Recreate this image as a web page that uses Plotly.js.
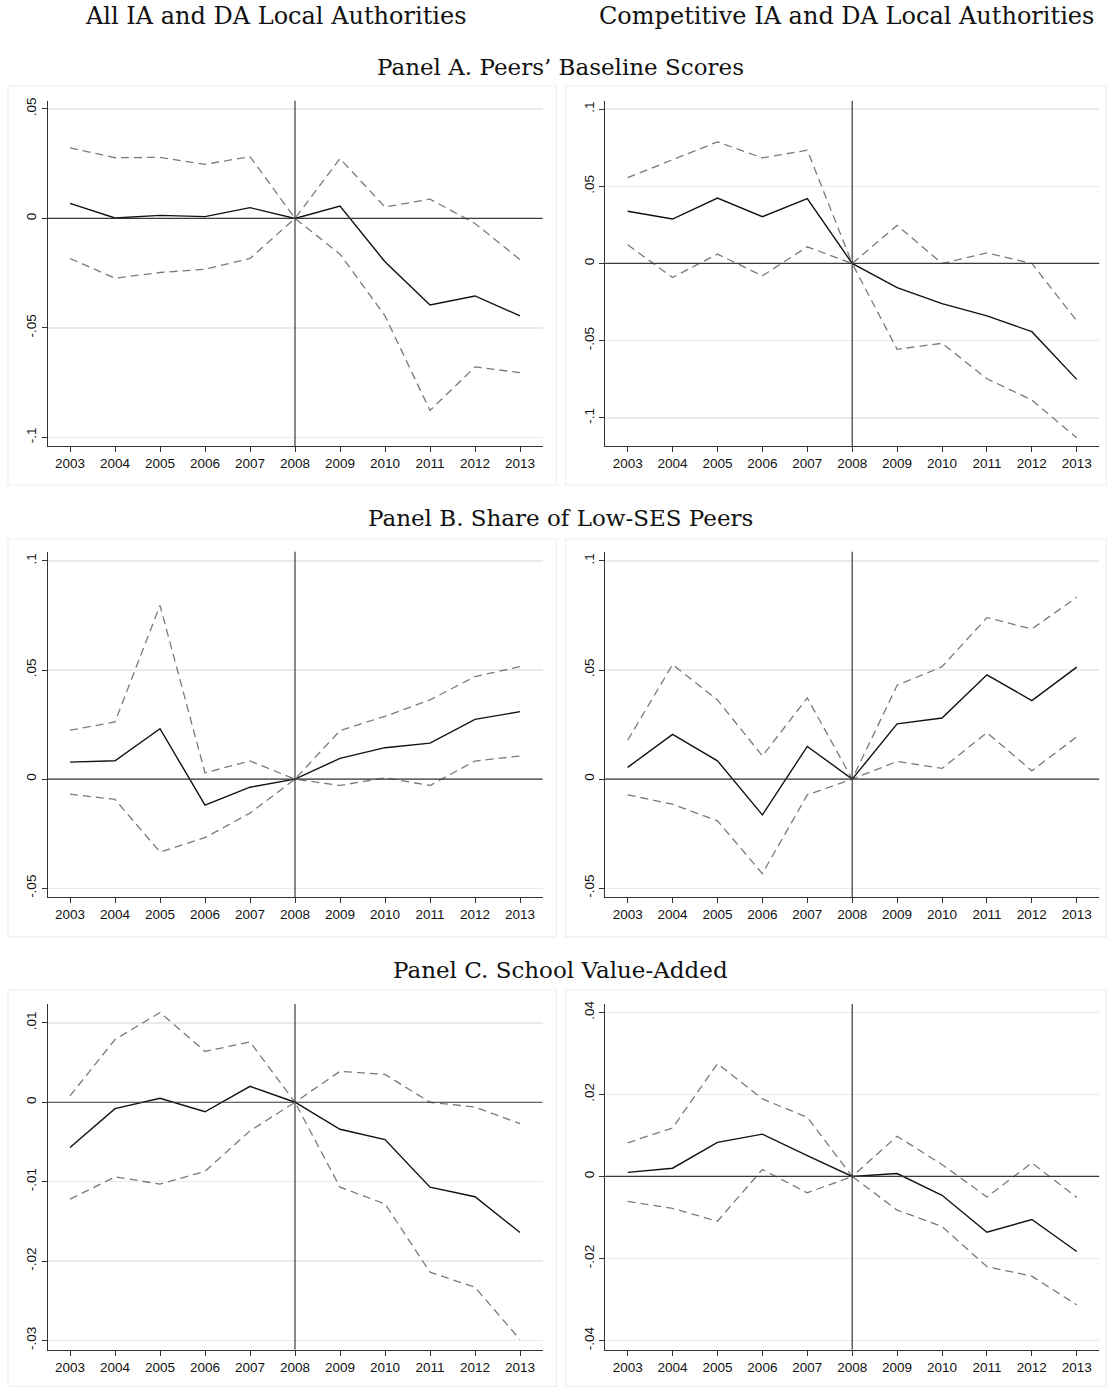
<!DOCTYPE html>
<html>
<head>
<meta charset="utf-8">
<script src="https://cdn.plot.ly/plotly-3.0.1.min.js"></script>
<style>
  html, body { margin: 0; padding: 0; background: #ffffff; }
  #chart { width: 1108px; height: 1387px; }
</style>
</head>
<body>
<div id="chart"></div>
<script>
// ---------- DATA ----------
const years = [2003, 2004, 2005, 2006, 2007, 2008, 2009, 2010, 2011, 2012, 2013];
const yearLabels = ["2003","2004","2005","2006","2007","2008","2009","2010","2011","2012","2013"];

// Panel A. Peers' Baseline Scores — All IA and DA Local Authorities
const aAllCoef  = [0.0069, 0.0002, 0.0014, 0.0008, 0.0049, 0, 0.0056, -0.0198, -0.0395, -0.0354, -0.0445];
const aAllUpper = [0.0322, 0.0277, 0.0279, 0.0247, 0.0282, 0, 0.0273, 0.0052, 0.0088, -0.0023, -0.0188];
const aAllLower = [-0.0183, -0.0273, -0.0247, -0.0232, -0.0183, 0, -0.0163, -0.0445, -0.0877, -0.0678, -0.0704];

// Panel A — Competitive IA and DA Local Authorities
const aCompCoef  = [0.0338, 0.0288, 0.0424, 0.0303, 0.0420, 0, -0.0156, -0.0260, -0.0340, -0.0442, -0.0751];
const aCompUpper = [0.0556, 0.0671, 0.0788, 0.0684, 0.0734, 0, 0.0247, 0.0000, 0.0069, 0.0000, -0.0372];
const aCompLower = [0.0121, -0.0091, 0.0061, -0.0080, 0.0108, 0, -0.0556, -0.0517, -0.0747, -0.0885, -0.1130];

// Panel B. Share of Low-SES Peers — All
const bAllCoef  = [0.0078, 0.0084, 0.0231, -0.0119, -0.0037, 0, 0.0095, 0.0144, 0.0165, 0.0274, 0.0309];
const bAllUpper = [0.0224, 0.0262, 0.0796, 0.0029, 0.0083, 0, 0.0222, 0.0288, 0.0363, 0.0470, 0.0515];
const bAllLower = [-0.0069, -0.0093, -0.0334, -0.0268, -0.0156, 0, -0.0029, 0.0006, -0.0029, 0.0083, 0.0106];

// Panel B — Competitive
const bCompCoef  = [0.0054, 0.0205, 0.0084, -0.0164, 0.0150, 0, 0.0253, 0.0280, 0.0478, 0.0360, 0.0513];
const bCompUpper = [0.0178, 0.0525, 0.0363, 0.0106, 0.0372, 0, 0.0430, 0.0515, 0.0740, 0.0688, 0.0833];
const bCompLower = [-0.0072, -0.0115, -0.0191, -0.0433, -0.0072, 0, 0.0081, 0.0049, 0.0213, 0.0038, 0.0194];

// Panel C. School Value-Added — All
const cAllCoef  = [-0.0057, -0.0008, 0.0005, -0.0012, 0.0020, 0, -0.0034, -0.0047, -0.0107, -0.0119, -0.0164];
const cAllUpper = [0.0008, 0.0079, 0.0113, 0.0064, 0.0076, 0, 0.0039, 0.0035, 0.0000, -0.0006, -0.0027];
const cAllLower = [-0.0122, -0.0094, -0.0103, -0.0087, -0.0036, 0, -0.0107, -0.0128, -0.0214, -0.0233, -0.0299];

// Panel C — Competitive
const cCompCoef  = [0.0010, 0.0020, 0.0083, 0.0103, 0.0051, 0, 0.0007, -0.0046, -0.0136, -0.0105, -0.0183];
const cCompUpper = [0.0082, 0.0118, 0.0275, 0.0189, 0.0144, 0, 0.0098, 0.0029, -0.0050, 0.0033, -0.0051];
const cCompLower = [-0.0061, -0.0078, -0.0109, 0.0017, -0.0040, 0, -0.0082, -0.0122, -0.0220, -0.0243, -0.0313];

// Y tick values / labels
const ticksA1 = [-0.1, -0.05, 0, 0.05];            const labelsA1 = ["-.1", "-.05", "0", ".05"];
const ticksA2 = [-0.1, -0.05, 0, 0.05, 0.1];       const labelsA2 = ["-.1", "-.05", "0", ".05", ".1"];
const ticksB  = [-0.05, 0, 0.05, 0.1];             const labelsB  = ["-.05", "0", ".05", ".1"];
const ticksC1 = [-0.03, -0.02, -0.01, 0, 0.01];    const labelsC1 = ["-.03", "-.02", "-.01", "0", ".01"];
const ticksC2 = [-0.04, -0.02, 0, 0.02, 0.04];     const labelsC2 = ["-.04", "-.02", "0", ".02", ".04"];

// Titles
const colTitles = ["All IA and DA Local Authorities", "Competitive IA and DA Local Authorities"];
const panelTitles = ["Panel A. Peers’ Baseline Scores", "Panel B. Share of Low-SES Peers", "Panel C. School Value-Added"];

// ---------- LAYOUT HELPERS ----------
const W = 1108, H = 1387;
const px = v => v / W;
const py = v => 1 - v / H;

const colX = [[47.5, 542.5], [605.2, 1099.2]];
const rowY = [[100.8, 446.2], [551.7, 897.2], [1004.1, 1349.6]];
const frameX = [[8, 556.5], [565.5, 1106]];
const frameY = [[86, 485], [539, 937], [990, 1386.5]];

const panels = [
  {coef: aAllCoef,  up: aAllUpper,  lo: aAllLower,  row: 0, col: 0, range: [-0.104, 0.0537],   tv: ticksA1, tt: labelsA1},
  {coef: aCompCoef, up: aCompUpper, lo: aCompLower, row: 0, col: 1, range: [-0.1184, 0.1054],  tv: ticksA2, tt: labelsA2},
  {coef: bAllCoef,  up: bAllUpper,  lo: bAllLower,  row: 1, col: 0, range: [-0.0541, 0.1042],  tv: ticksB,  tt: labelsB},
  {coef: bCompCoef, up: bCompUpper, lo: bCompLower, row: 1, col: 1, range: [-0.0541, 0.1042],  tv: ticksB,  tt: labelsB},
  {coef: cAllCoef,  up: cAllUpper,  lo: cAllLower,  row: 2, col: 0, range: [-0.03115, 0.01236], tv: ticksC1, tt: labelsC1},
  {coef: cCompCoef, up: cCompUpper, lo: cCompLower, row: 2, col: 1, range: [-0.0422, 0.042],   tv: ticksC2, tt: labelsC2}
];

const tickFont = {family: "Liberation Sans, Arial, sans-serif", size: 13.5, color: "#111111"};
const colTitleFont = {family: "DejaVu Serif, serif", size: 24, color: "#111111"};
const panelTitleFont = {family: "DejaVu Serif, serif", size: 23, color: "#111111"};

const traces = [];
const layout = {
  width: W, height: H,
  margin: {l: 0, r: 0, t: 0, b: 0},
  paper_bgcolor: "#ffffff",
  plot_bgcolor: "#ffffff",
  showlegend: false,
  shapes: [],
  annotations: []
};

panels.forEach((p, i) => {
  const n = i + 1;
  const xa = n === 1 ? "x" : "x" + n;
  const ya = n === 1 ? "y" : "y" + n;
  const xk = n === 1 ? "xaxis" : "xaxis" + n;
  const yk = n === 1 ? "yaxis" : "yaxis" + n;
  const cx = colX[p.col], ry = rowY[p.row];

  layout[xk] = {
    domain: [px(cx[0]), px(cx[1])],
    anchor: ya,
    range: [2002.5, 2013.5],
    tickmode: "array", tickvals: years, ticktext: yearLabels,
    ticks: "outside", ticklen: 5, tickwidth: 1, tickcolor: "#333333",
    showline: true, linecolor: "#333333", linewidth: 1,
    showgrid: false, zeroline: false,
    tickfont: tickFont, fixedrange: true
  };
  layout[yk] = {
    domain: [py(ry[1]), py(ry[0])],
    anchor: xa,
    range: p.range,
    tickmode: "array", tickvals: p.tv, ticktext: p.tt,
    tickangle: -90,
    ticks: "outside", ticklen: 5, tickwidth: 1, tickcolor: "#333333",
    showline: true, linecolor: "#333333", linewidth: 1,
    showgrid: true, gridcolor: "#eaeaea", gridwidth: 1.5,
    zeroline: false,
    tickfont: tickFont, fixedrange: true
  };

  // reference lines
  layout.shapes.push({type: "line", xref: xa + " domain", yref: ya, x0: 0, x1: 1, y0: 0, y1: 0,
                      line: {color: "#3a3a3a", width: 1.2}, layer: "above"});
  layout.shapes.push({type: "line", xref: xa, yref: ya + " domain", x0: 2008, x1: 2008, y0: 0, y1: 1,
                      line: {color: "#3a3a3a", width: 1.2}, layer: "above"});
  // frame
  const fx = frameX[p.col], fy = frameY[p.row];
  layout.shapes.push({type: "rect", xref: "paper", yref: "paper",
                      x0: px(fx[0]), x1: px(fx[1]), y0: py(fy[1]), y1: py(fy[0]),
                      line: {color: "#ececec", width: 1.2}, fillcolor: "rgba(0,0,0,0)", layer: "below"});

  const dashLine = {color: "#7a7a7a", width: 1.3, dash: "8px,5px"};
  traces.push({x: years, y: p.up, xaxis: xa, yaxis: ya, type: "scatter", mode: "lines", line: dashLine, hoverinfo: "skip"});
  traces.push({x: years, y: p.lo, xaxis: xa, yaxis: ya, type: "scatter", mode: "lines", line: dashLine, hoverinfo: "skip"});
  traces.push({x: years, y: p.coef, xaxis: xa, yaxis: ya, type: "scatter", mode: "lines",
               line: {color: "#111111", width: 1.4}, hoverinfo: "skip"});
});

// titles
layout.annotations.push({text: colTitles[0], xref: "paper", yref: "paper", x: px(275.5), y: py(16),
                         xanchor: "center", yanchor: "middle", showarrow: false, font: colTitleFont});
layout.annotations.push({text: colTitles[1], xref: "paper", yref: "paper", x: px(846), y: py(16),
                         xanchor: "center", yanchor: "middle", showarrow: false, font: colTitleFont});
const panelTitleY = [67, 518, 970];
panelTitles.forEach((t, i) => {
  layout.annotations.push({text: t, xref: "paper", yref: "paper", x: px(560), y: py(panelTitleY[i]),
                           xanchor: "center", yanchor: "middle", showarrow: false, font: panelTitleFont});
});

Plotly.newPlot("chart", traces, layout, {displayModeBar: false, staticPlot: true});
</script>
</body>
</html>
